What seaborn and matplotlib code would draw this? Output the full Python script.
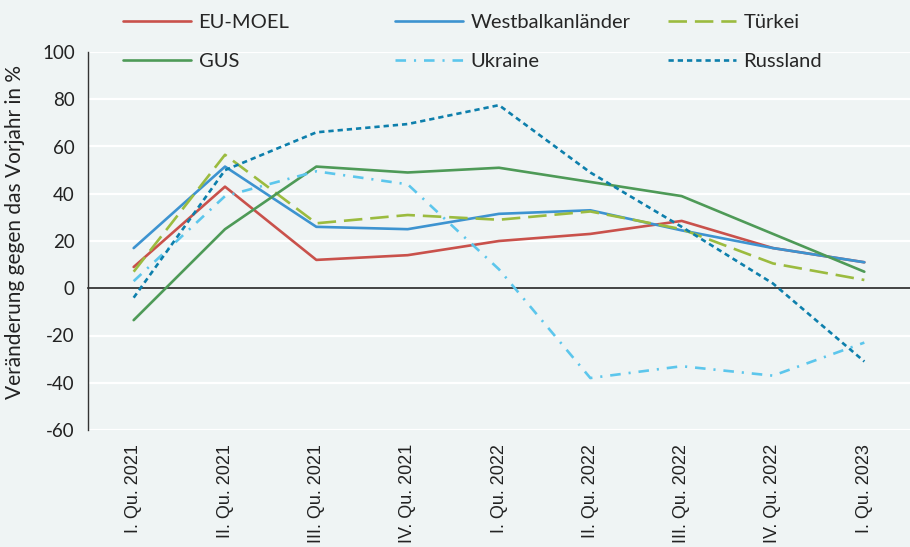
import pandas as pd
import numpy as np
import matplotlib
matplotlib.use('Agg')
import matplotlib.pyplot as plt
import matplotlib.transforms as mtransforms
from matplotlib.lines import Line2D
import seaborn as sns

quarters = ['I. Qu. 2021', 'II. Qu. 2021', 'III. Qu. 2021', 'IV. Qu. 2021',
            'I. Qu. 2022', 'II. Qu. 2022', 'III. Qu. 2022', 'IV. Qu. 2022',
            'I. Qu. 2023']

eu_moel = [9, 43, 12, 14, 20, 23, 28.5, 17, 11]
westbalkan = [17, 51.5, 26, 25, 31.5, 33, 24.5, 17, 11]
tuerkei = [7, 56.5, 27.5, 31, 29, 32.5, 25, 10.5, 3.5]
gus = [-13.5, 25, 51.5, 49, 51, 45, 39, 23, 7]
ukraine = [3, 39, 49.5, 44, 8, -38, -33, -37, -23]
russland = [-4, 50, 66, 69.5, 77.5, 49, 26, 2, -31]

series = {
    'EU-MOEL': eu_moel,
    'Westbalkanländer': westbalkan,
    'Türkei': tuerkei,
    'GUS': gus,
    'Ukraine': ukraine,
    'Russland': russland,
}
colors = {
    'EU-MOEL': '#c9514b',
    'Westbalkanländer': '#3d93d0',
    'Türkei': '#9bbb3f',
    'GUS': '#4e9a57',
    'Ukraine': '#5cc6ec',
    'Russland': '#0d7fac',
}
dashes = {
    'EU-MOEL': '',
    'Westbalkanländer': '',
    'Türkei': (7, 3),
    'GUS': '',
    'Ukraine': (4, 3, 0.8, 3),
    'Russland': (2, 1.5),
}

rows = []
for name, vals in series.items():
    for i, v in enumerate(vals):
        rows.append({'pos': i, 'wert': v, 'region': name})
df = pd.DataFrame(rows)

bg = '#eff4f4'
sns.set_style('white')
plt.rcParams['font.family'] = ['Lato', 'DejaVu Sans']
plt.rcParams['axes.unicode_minus'] = False

fig = plt.figure(figsize=(9.1, 5.47), dpi=100, facecolor=bg)
ax = fig.add_axes([88 / 910, 1 - 430 / 547, 1 - 88 / 910, (430 - 52) / 547])
ax.set_facecolor(bg)

sns.lineplot(data=df, x='pos', y='wert', hue='region', style='region',
             palette=colors, dashes=dashes, hue_order=list(series),
             style_order=list(series), linewidth=1.9, legend=False, ax=ax)

ax.set_xlim(-0.5, 8.5)
ax.set_ylim(-60, 100)
ax.set_yticks(np.arange(-60, 101, 20))
ax.yaxis.grid(True, color='white', linewidth=1.6)
ax.set_axisbelow(True)
ax.set_xlabel('')
ax.set_ylabel('')

for s in ['top', 'right']:
    ax.spines[s].set_visible(False)
ax.spines['left'].set_color('#333333')
ax.spines['left'].set_linewidth(1.0)
ax.spines['bottom'].set_position(('data', 0))
ax.spines['bottom'].set_color('#222222')
ax.spines['bottom'].set_linewidth(1.2)
ax.spines['bottom'].set_zorder(1.5)

ax.set_xticks(np.arange(0.5, 8, 1))
ax.set_xticklabels([])
ax.tick_params(axis='x', direction='inout', length=9, width=1.0, color='#222222')
ax.tick_params(axis='y', direction='out', length=4.5, width=1.0, color='#333333',
               labelsize=13.5, labelcolor='#222222', pad=5)

trans = mtransforms.blended_transform_factory(ax.transData, ax.transAxes)
for i, q in enumerate(quarters):
    ax.text(i, -14 / 378, q, transform=trans, rotation=90, ha='center', va='top',
            fontsize=13, family=['Liberation Sans'], color='#222222')

fig.text(15 / 910, 1 - 232 / 547, 'Veränderung gegen das Vorjahr in %', rotation=90,
         ha='center', va='center', fontsize=15, color='#222222')

cols = [['EU-MOEL', 'GUS'], ['Westbalkanländer', 'Ukraine'], ['Türkei', 'Russland']]
xs = [123, 395, 668]
for names, x0 in zip(cols, xs):
    handles = [Line2D([0], [0], color=colors[n], linewidth=1.9,
                      dashes=dashes[n] if dashes[n] else (None, None))
               for n in names]
    fig.legend(handles, names, loc='upper left', bbox_to_anchor=(x0 / 910, 1 - 14 / 547),
               frameon=False, fontsize=14.5, handlelength=3.4, handletextpad=0.35,
               labelspacing=1.1, borderpad=0, borderaxespad=0)

fig.savefig('out.png', dpi=100, facecolor=bg)
